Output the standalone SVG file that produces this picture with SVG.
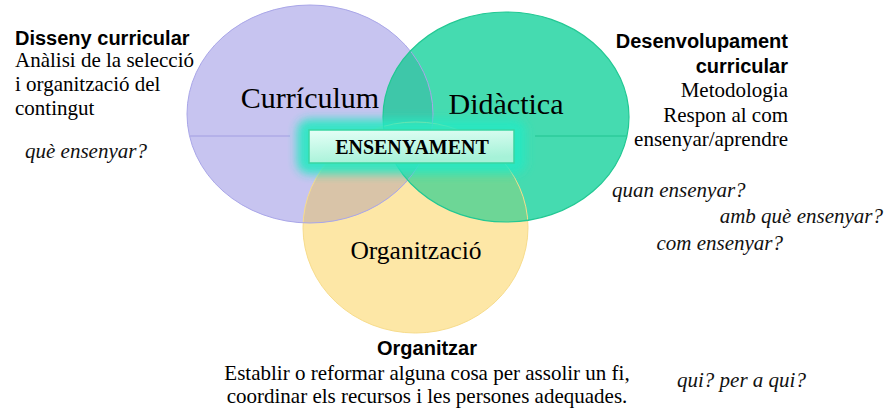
<svg xmlns="http://www.w3.org/2000/svg" xmlns:xlink="http://www.w3.org/1999/xlink" width="885" height="409" viewBox="0 0 885 409">
<style>
.serif{font-family:"Liberation Serif","Times New Roman",serif;fill:#000}
.sans{font-family:"Liberation Sans",Arial,sans-serif;font-weight:bold;fill:#000}
.it{font-family:"Liberation Serif","Times New Roman",serif;font-style:italic;fill:#111}
.big{font-size:30px}
.body{font-size:21px}
.head{font-size:20px}
</style>
<defs>
<clipPath id="cP"><ellipse cx="310" cy="114" rx="123" ry="109"/></clipPath>
<clipPath id="cG"><ellipse cx="506" cy="117" rx="123" ry="105"/></clipPath>
<clipPath id="cY"><ellipse cx="415.5" cy="227.5" rx="112.5" ry="105.5"/></clipPath>
<filter id="blur" x="-30%" y="-80%" width="160%" height="260%"><feGaussianBlur stdDeviation="5"/></filter>
<linearGradient id="boxg" x1="0" y1="0" x2="0.3" y2="1">
<stop offset="0" stop-color="#e6fff7"/>
<stop offset="1" stop-color="#a6f2d8"/>
</linearGradient>
</defs>

<g id="yellow-organitzacio">
<ellipse cx="415.5" cy="227.5" rx="112.5" ry="105.5" fill="#fde7a6"/>
</g>
<g id="purple-curriculum">
<ellipse cx="310" cy="114" rx="123" ry="109" fill="#c7c4f0"/>
<ellipse cx="310" cy="114" rx="123" ry="109" fill="#d9c4a8" clip-path="url(#cY)"/>
<line x1="190" y1="136" x2="290" y2="136" stroke="#a29ee2" stroke-width="1"/>
</g>
<g id="green-didactica">
<ellipse cx="506" cy="117" rx="123" ry="105" fill="#45dbb0"/>
<g clip-path="url(#cP)"><ellipse cx="506" cy="117" rx="123" ry="105" fill="#3ec7a9"/></g>
<g clip-path="url(#cY)"><ellipse cx="506" cy="117" rx="123" ry="105" fill="#6dd696"/></g>
<g clip-path="url(#cP)"><g clip-path="url(#cY)"><ellipse cx="506" cy="117" rx="123" ry="105" fill="#5ccba0"/></g></g>
<line x1="535" y1="136" x2="627" y2="136" stroke="#20c490" stroke-width="1"/>
</g>
<g id="outlines" fill="none">
<ellipse cx="415.5" cy="227.5" rx="112.5" ry="105.5" stroke="#f7dc8c" stroke-width="1"/>
<ellipse cx="310" cy="114" rx="123" ry="109" stroke="#a9a6e8" stroke-width="1"/>
<ellipse cx="506" cy="117" rx="123" ry="105" stroke="#22c893" stroke-width="1.2"/>
</g>

<g id="labels-circles">
<text class="serif big" x="310" y="108" text-anchor="middle">Currículum</text>
<text class="serif big" x="506" y="114" text-anchor="middle">Didàctica</text>
<text class="serif" x="416" y="259" text-anchor="middle" font-size="25.5">Organització</text>
</g>

<g id="ensenyament">
<rect x="297" y="119" width="229" height="55" rx="12" fill="#26e8c2" opacity="0.9" filter="url(#blur)"/>
<rect x="309" y="130" width="205" height="33" fill="url(#boxg)" stroke="#38d6a2" stroke-width="1.5"/>
<text class="serif" x="412" y="154" text-anchor="middle" font-size="20" font-weight="bold">ENSENYAMENT</text>
</g>

<g id="disseny-curricular">
<text class="sans head" x="15" y="45">Disseny curricular</text>
<text class="serif body" x="15" y="67">Anàlisi de la selecció</text>
<text class="serif body" x="15" y="91">i organització del</text>
<text class="serif body" x="15" y="115">contingut</text>
<text class="it body" x="25" y="158">què ensenyar?</text>
</g>

<g id="desenvolupament-curricular" text-anchor="end">
<text class="sans head" x="788" y="48">Desenvolupament</text>
<text class="sans head" x="788" y="73">curricular</text>
<text class="serif body" x="788" y="97">Metodologia</text>
<text class="serif body" x="788" y="122">Respon al com</text>
<text class="serif body" x="788" y="146">ensenyar/aprendre</text>
</g>

<g id="preguntes">
<text class="it body" x="612" y="197">quan ensenyar?</text>
<text class="it body" x="883" y="223" text-anchor="end">amb què ensenyar?</text>
<text class="it body" x="783" y="250" text-anchor="end">com ensenyar?</text>
<text class="it body" x="677" y="387">qui? per a qui?</text>
</g>

<g id="organitzar" text-anchor="middle">
<text class="sans head" x="427" y="355">Organitzar</text>
<text class="serif body" x="427" y="380">Establir o reformar alguna cosa per assolir un fi,</text>
<text class="serif body" x="427" y="403">coordinar els recursos i les persones adequades.</text>
</g>
</svg>
